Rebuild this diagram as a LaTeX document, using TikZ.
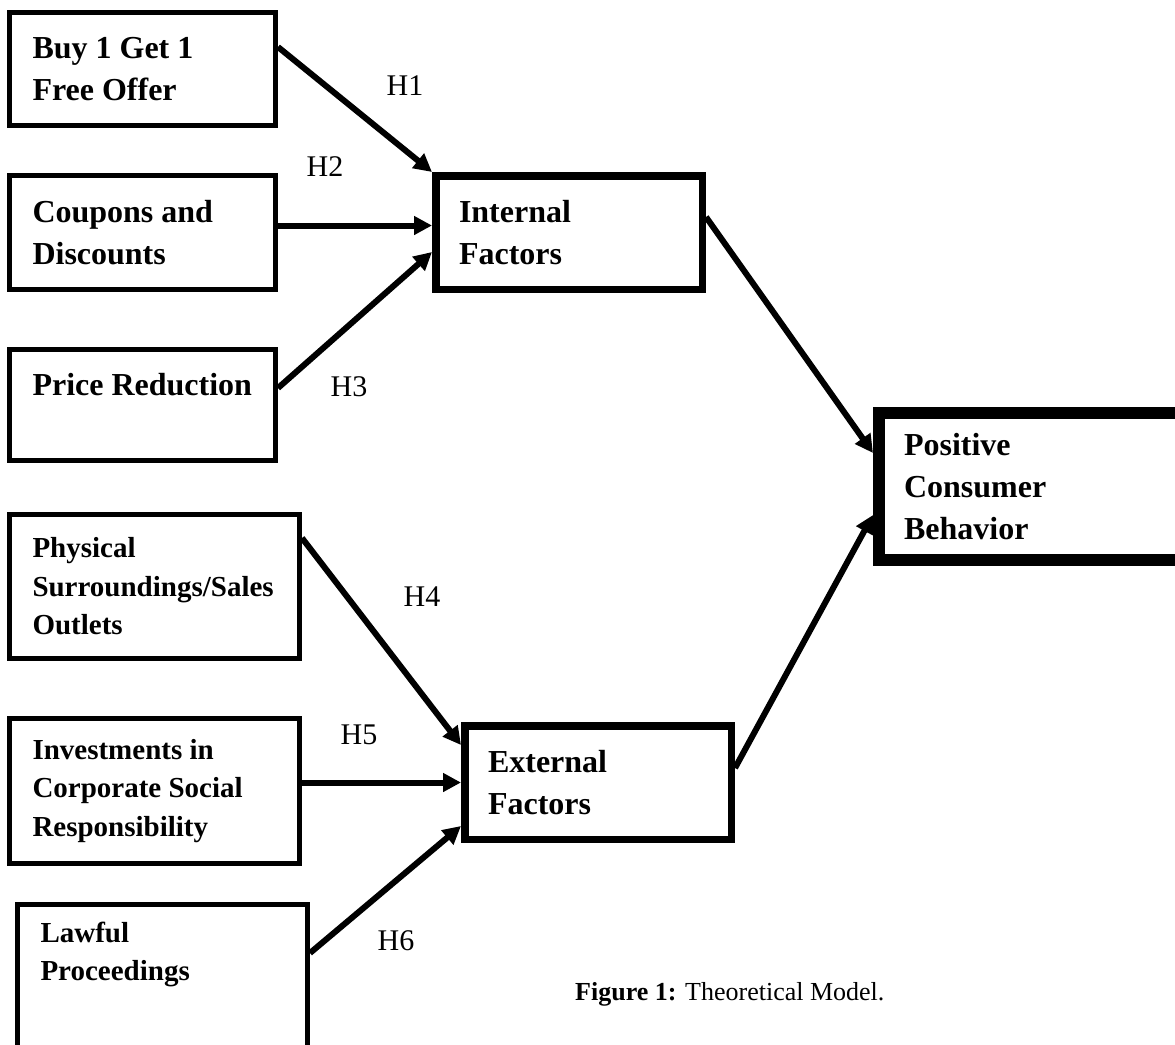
\documentclass[tikz,border=0pt]{standalone}
\usepackage{fontspec}
\setmainfont{Liberation Serif}
\usetikzlibrary{arrows.meta}

\begin{document}
\begin{tikzpicture}[x=1pt, y=-1pt,
        caja/.style={draw, line width=5pt, anchor=north west, align=flush left, inner xsep=23pt, inner ysep=0pt, font=\fontsize{32}{42}\selectfont\bfseries},
        cajab/.style={caja, font=\fontsize{29}{38.5}\selectfont\bfseries},
        factor/.style={caja, line width=7.5pt},
        flecha/.style={line width=6pt, -{Triangle[length=18pt, width=18pt]}},
        hip/.style={font=\fontsize{30}{36}\selectfont}]
            \useasboundingbox (0,0) rectangle (1175,1044);
            \clip (0,0) rectangle (1175,1044);

            % Cajas de la izquierda
            \node[caja, minimum width=266, minimum height=113, text width=220] (buy) at (7,10) {Buy 1 Get 1\\Free Offer};
            \node[caja, minimum width=266, minimum height=114, text width=220] (coupons) at (7,173) {Coupons and\\Discounts};
            \node[caja, minimum width=266, minimum height=111, text width=220] (price) at (7,347) {\mbox{Price Reduction}\\ \mbox{}};
            \node[cajab, minimum width=290, minimum height=144, text width=244] (physical) at (7,512) {Physical\\Surroundings/Sales\\Outlets};
            \node[cajab, minimum width=290, minimum height=145, text width=244] (invest) at (7,716) {Investments in\\Corporate Social\\Responsibility};
            \node[cajab, minimum width=290, minimum height=171, text width=244] (lawful) at (15,902) {Lawful\\Proceedings\\ \mbox{}\\ \mbox{}};

            % Factores
            \node[factor, minimum width=266.5, minimum height=113.5, text width=220] (internal) at (432,172) {Internal\\Factors};
            \node[factor, minimum width=266.5, minimum height=113.5, text width=220] (external) at (461,722) {External\\Factors};

            % Resultado
            \node[caja, line width=12pt, inner xsep=25pt, minimum width=321, minimum height=147, text width=271] (positive) at (873,407) {Positive\\Consumer\\Behavior};

            % Flechas
            \draw[flecha] ([yshift=-37pt]buy.north east) -- (internal.north west);
            \draw[flecha] ([yshift=7pt]coupons.east) -- ([yshift=7pt]internal.west);
            \draw[flecha] ([yshift=17pt]price.east) -- ([yshift=-19.5pt]internal.west);
            \draw[flecha] ([yshift=-26pt]physical.north east) -- ([yshift=-23pt]external.north west);
            \draw[flecha] ([yshift=8.5pt]invest.east) -- (external.west);
            \draw[flecha] ([yshift=-51pt]lawful.north east) -- ([yshift=-43.5pt]external.west);
            \draw[flecha] ([yshift=15.5pt]internal.east) -- ([yshift=33.5pt]positive.west);
            \draw[flecha] ([yshift=14.5pt]external.east) -- ([yshift=-28.5pt]positive.west);

            % Hipotesis
            \node[hip] (h1) at (405,86) {H1};
            \node[hip] (h2) at (325,167) {H2};
            \node[hip] (h3) at (349,387) {H3};
            \node[hip] (h4) at (422,597) {H4};
            \node[hip] (h5) at (359,735) {H5};
            \node[hip] (h6) at (396,941) {H6};

            % Pie de figura
            \node[anchor=base west, inner sep=0pt, font=\fontsize{26}{30}\selectfont] (caption) at (575,1000) {\textbf{Figure 1:} Theoretical Model.};
        \end{tikzpicture}
\end{document}
